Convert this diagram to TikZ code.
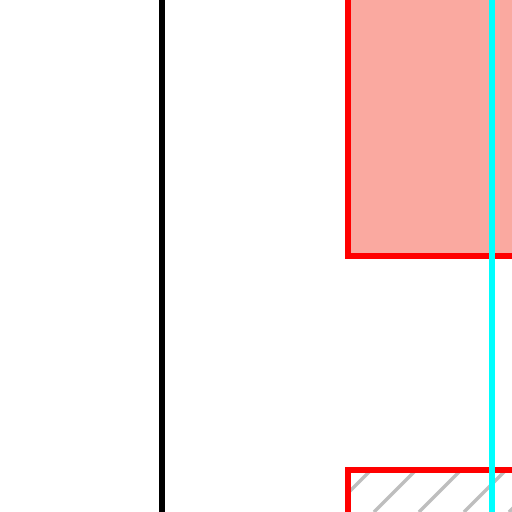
\documentclass[tikz,border=0pt]{standalone}
\definecolor{salmonfill}{RGB}{250,169,160}
\definecolor{hatchgray}{RGB}{190,190,190}
\definecolor{boxred}{RGB}{255,0,0}
\definecolor{lineaqua}{RGB}{0,255,255}
\tikzset{
  redbox/.style={draw=boxred, line width=6pt},
  hatchline/.style={draw=hatchgray, line width=3.5pt},
  vline/.style={line width=5.5pt},
}
\begin{document}
\begin{tikzpicture}[x=1pt,y=-1pt]
\useasboundingbox (0,0) rectangle (512,512);
\clip (0,0) rectangle (512,512);
\fill[white] (0,0) rectangle (512,512);
% top filled box
\draw[redbox, fill=salmonfill] (347.5,-20) rectangle (560,256);
% bottom hatched box
\begin{scope}
  \clip (347.5,470) rectangle (560,560);
  \foreach \x in {329,374,419,464,509,554} {
    \draw[hatchline] (\x,512) -- ++(60,-60);
  }
\end{scope}
\draw[redbox] (347.5,470) rectangle (560,560);
% vertical lines
\draw[vline, black] (162,-10) -- (162,522);
\draw[vline, lineaqua, line width=6pt] (492,-10) -- (492,522);
\end{tikzpicture}
\end{document}
